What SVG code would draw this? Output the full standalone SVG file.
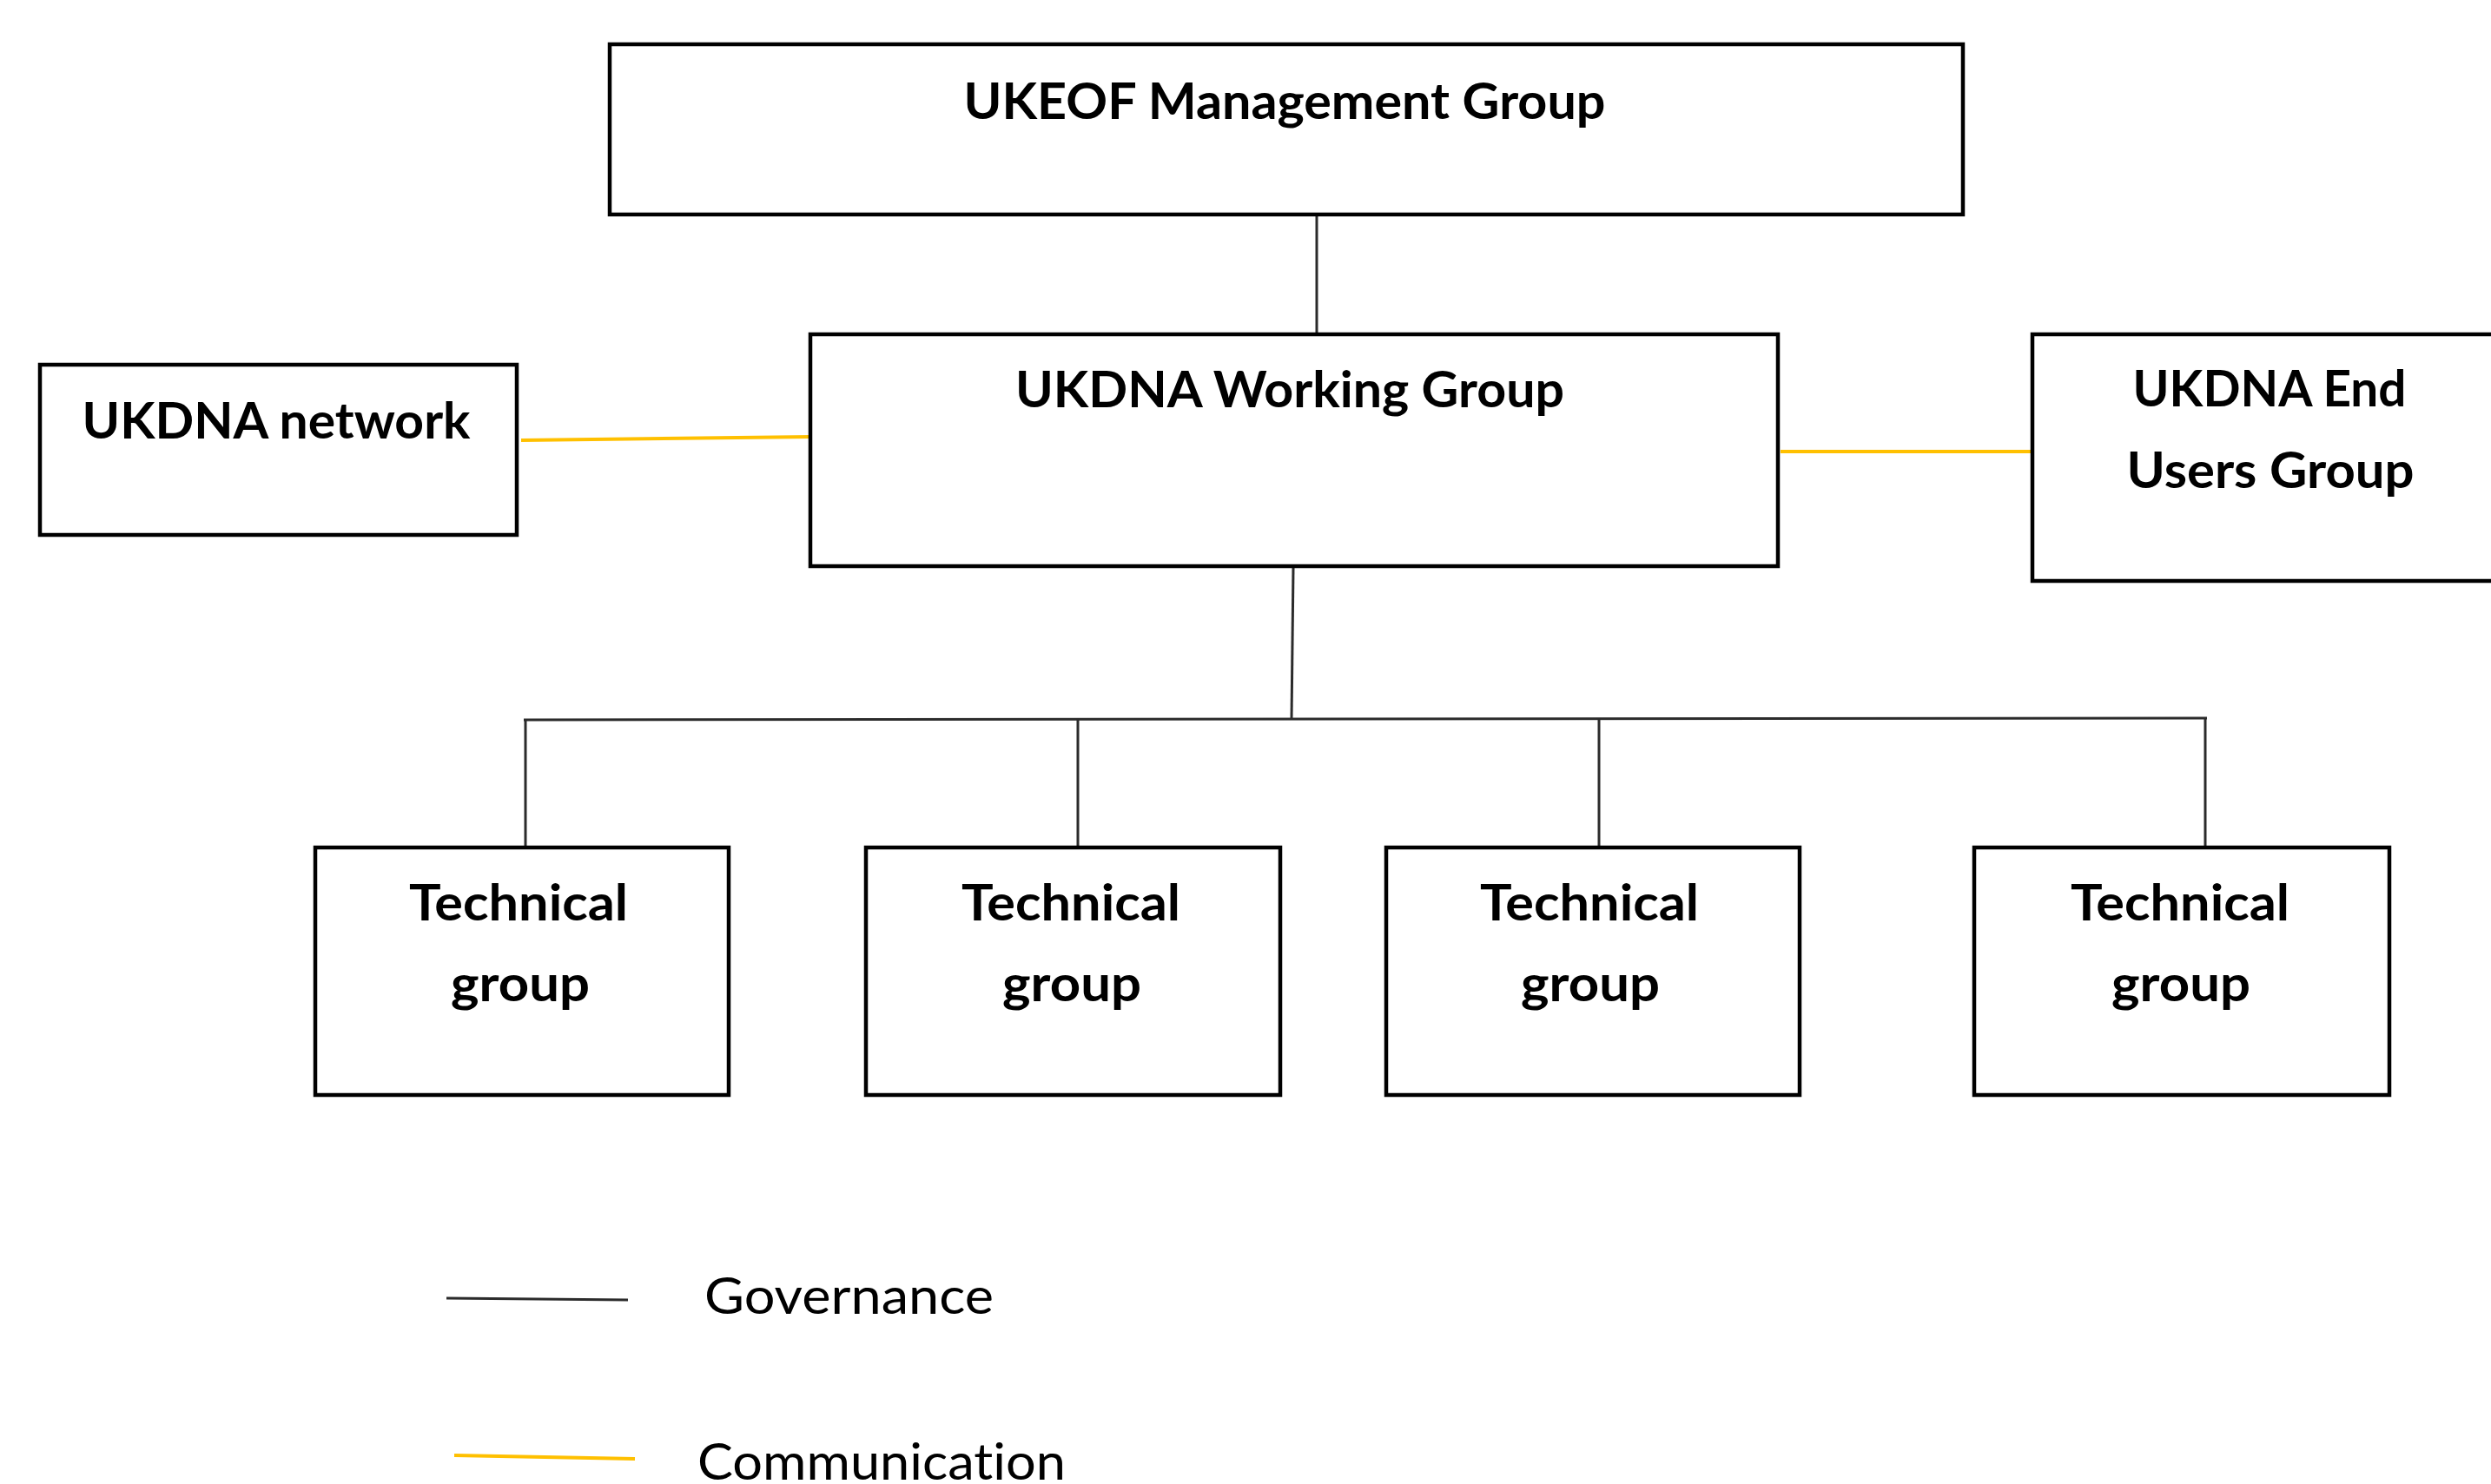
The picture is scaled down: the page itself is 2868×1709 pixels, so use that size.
<svg xmlns="http://www.w3.org/2000/svg" width="2868" height="1709" viewBox="0 0 2868 1709">
<style>
.box{fill:#fff;stroke:#000;stroke-width:4.5}
.t{font-family:Lato,"Open Sans","Liberation Sans",sans-serif;font-weight:bold;font-size:58px;fill:#000;text-anchor:middle;font-variant-ligatures:none}
.leg{font-family:Lato,"Open Sans","Liberation Sans",sans-serif;font-size:58px;fill:#000;font-variant-ligatures:none}
.gov{stroke:#2b2b2b;stroke-width:3;fill:none}
.com{stroke:#FFC000;stroke-width:4;fill:none}
</style>
<rect width="2868" height="1709" fill="#fff"/>
<g id="connectors">
<line class="gov" x1="1516" y1="249" x2="1516" y2="396"/>
<line class="gov" x1="1489" y1="654" x2="1487" y2="829"/>
<line class="gov" x1="603" y1="829" x2="2541" y2="827" stroke-width="4"/>
<line class="gov" x1="605" y1="829" x2="605" y2="974"/>
<line class="gov" x1="1241" y1="828" x2="1241" y2="974"/>
<line class="gov" x1="1841" y1="828" x2="1841" y2="974"/>
<line class="gov" x1="2539" y1="827" x2="2539" y2="974"/>
<line class="com" x1="600" y1="507" x2="935" y2="503"/>
<line class="com" x1="2050" y1="520" x2="2338" y2="520"/>
</g>
<g id="ukeof">
<rect class="box" x="702" y="51" width="1558" height="196"/>
<text class="t" x="1479" y="137" textLength="739" lengthAdjust="spacingAndGlyphs">UKEOF Management Group</text>
</g>
<g id="network">
<rect class="box" x="46" y="420" width="549" height="196"/>
<text class="t" x="318" y="505" textLength="447" lengthAdjust="spacingAndGlyphs">UKDNA network</text>
</g>
<g id="working">
<rect class="box" x="933" y="385" width="1114" height="267"/>
<text class="t" x="1485" y="469" textLength="632" lengthAdjust="spacingAndGlyphs">UKDNA Working Group</text>
</g>
<g id="endusers">
<rect class="box" x="2340" y="385" width="560" height="284"/>
<text class="t" x="2613" y="468" textLength="315" lengthAdjust="spacingAndGlyphs">UKDNA End</text>
<text class="t" x="2614" y="562" textLength="331" lengthAdjust="spacingAndGlyphs">Users Group</text>
</g>
<g id="tech1">
<rect class="box" x="363" y="976" width="476" height="285"/>
<text class="t" x="597" y="1060" textLength="252" lengthAdjust="spacingAndGlyphs">Technical</text>
<text class="t" x="599" y="1153" textLength="160" lengthAdjust="spacingAndGlyphs">group</text>
</g>
<g id="tech2">
<rect class="box" x="997" y="976" width="477" height="285"/>
<text class="t" x="1233" y="1060" textLength="252" lengthAdjust="spacingAndGlyphs">Technical</text>
<text class="t" x="1234" y="1153" textLength="160" lengthAdjust="spacingAndGlyphs">group</text>
</g>
<g id="tech3">
<rect class="box" x="1596" y="976" width="476" height="285"/>
<text class="t" x="1830" y="1060" textLength="252" lengthAdjust="spacingAndGlyphs">Technical</text>
<text class="t" x="1831" y="1153" textLength="160" lengthAdjust="spacingAndGlyphs">group</text>
</g>
<g id="tech4">
<rect class="box" x="2273" y="976" width="478" height="285"/>
<text class="t" x="2510" y="1060" textLength="252" lengthAdjust="spacingAndGlyphs">Technical</text>
<text class="t" x="2511" y="1153" textLength="160" lengthAdjust="spacingAndGlyphs">group</text>
</g>
<g id="legend">
<line class="gov" x1="514" y1="1495" x2="723" y2="1497"/>
<text class="leg" x="811" y="1513" textLength="333" lengthAdjust="spacingAndGlyphs">Governance</text>
<line class="com" x1="523" y1="1676" x2="731" y2="1680"/>
<text class="leg" x="803" y="1704" textLength="424" lengthAdjust="spacingAndGlyphs">Communication</text>
</g>
</svg>
